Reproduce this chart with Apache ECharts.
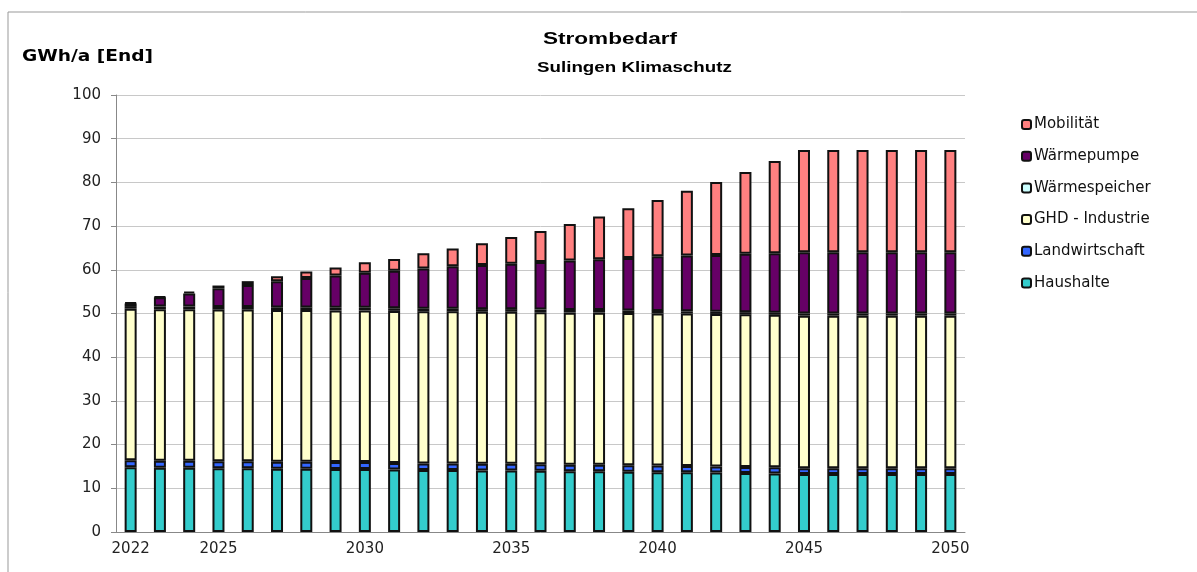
<!DOCTYPE html>
<html>
<head>
<meta charset="utf-8">
<script src="https://cdn.jsdelivr.net/npm/echarts@6/dist/echarts.min.js"></script>
<style>
  html, body { margin: 0; padding: 0; background: #fff; }
  #strom { width: 1197px; height: 572px; }
</style>
</head>
<body>
<div id="strom"></div>
<script>
// Jahre 2022 - 2050
var years = ['2022','2023','2024','2025','2026','2027','2028','2029','2030','2031','2032','2033','2034','2035',
  '2036','2037','2038','2039','2040','2041','2042','2043','2044','2045','2046','2047','2048','2049','2050'];

// GWh/a
var haushalte = [14.8,14.7,14.7,14.6,14.6,14.5,14.5,14.4,14.4,14.3,14.2,14.2,14.1,14.1,
  14.0,13.9,13.9,13.8,13.7,13.7,13.6,13.5,13.4,13.3,13.3,13.3,13.3,13.3,13.3];
var landwirtschaft = [1.6,1.6,1.6,1.6,1.6,1.6,1.6,1.6,1.6,1.5,1.5,1.5,1.5,1.5,
  1.5,1.5,1.5,1.5,1.5,1.4,1.4,1.4,1.4,1.3,1.3,1.3,1.3,1.3,1.3];
var ghd = [34.7,34.7,34.7,34.7,34.7,34.7,34.7,34.7,34.7,34.8,34.8,34.8,34.8,34.8,
  34.8,34.8,34.8,34.8,34.8,34.9,34.9,34.9,34.9,34.9,34.9,34.9,34.9,34.9,34.9];
var waermespeicher = [0.6,0.6,0.6,0.6,0.6,0.6,0.6,0.6,0.6,0.6,0.6,0.6,0.6,0.6,
  0.6,0.6,0.6,0.6,0.6,0.5,0.5,0.5,0.5,0.5,0.5,0.5,0.5,0.5,0.5];
var waermepumpe = [0.6,2.1,3.0,4.3,5.0,6.0,6.7,7.4,8.0,8.6,9.2,9.7,10.1,10.4,
  10.9,11.3,11.6,12.0,12.5,12.8,13.0,13.4,13.6,14.0,14.0,14.0,14.0,14.0,14.0];
var mobilitaet = [0.2,0.2,0.4,0.6,0.9,1.1,1.5,1.8,2.4,2.7,3.5,4.1,5.0,6.1,
  7.1,8.4,9.8,11.4,12.9,14.8,16.7,18.7,21.1,23.4,23.4,23.4,23.4,23.4,23.4];

var chartDom = document.getElementById('strom');
var myChart = echarts.init(chartDom);

function bar(name, data, color) {
  return {
    name: name,
    type: 'bar',
    stack: 'strom',
    data: data,
    barWidth: 12,
    itemStyle: { color: color, borderColor: '#111', borderWidth: 2 },
    emphasis: { disabled: true }
  };
}

// Ueberschriften sind im Original breit gezogen -> scaleX
function label(text, x, y, font, size, sx) {
  return {
    type: 'text', x: x, y: y, scaleX: sx, originX: 0,
    style: { text: text, fontFamily: font, fontSize: size, fontWeight: 'bold', fill: '#000', textVerticalAlign: 'middle' }
  };
}

var option = {
  animation: false,
  textStyle: { fontFamily: 'DejaVu Sans' },
  graphic: [
    { type: 'rect', shape: { x: 8, y: 12, width: 1200, height: 580 },
      style: { fill: 'none', stroke: '#999', lineWidth: 1 } },
    label('Strombedarf', 543, 40, 'Liberation Sans', 16, 1.41),
    label('Sulingen Klimaschutz', 537, 68, 'Liberation Sans', 15, 1.25),
    label('GWh/a [End]', 22, 57, 'DejaVu Sans', 15, 1.24)
  ],
  legend: {
    orient: 'vertical',
    left: 1016,
    top: 111.5,
    itemWidth: 9,
    itemHeight: 9,
    itemGap: 15.7,
    textStyle: { fontSize: 15, lineHeight: 16, color: '#111', padding: [0, 0, 0, -2] },
    data: ['Mobilität', 'Wärmepumpe', 'Wärmespeicher', 'GHD - Industrie', 'Landwirtschaft', 'Haushalte'],
    selectedMode: false
  },
  grid: { left: 116, right: 232, top: 95, bottom: 40 },
  xAxis: {
    type: 'category',
    data: years,
    boundaryGap: true,
    axisLine: { lineStyle: { color: '#888' } },
    axisTick: { interval: 0, length: 5, lineStyle: { color: '#888' } },
    axisLabel: {
      interval: function (idx, val) { return val === '2022' || Number(val) % 5 === 0; },
      color: '#222', fontSize: 15, margin: 10
    }
  },
  yAxis: {
    type: 'value',
    min: 0,
    max: 100,
    interval: 10,
    axisLine: { show: true, lineStyle: { color: '#888' } },
    axisTick: { show: true, length: 5, lineStyle: { color: '#888' } },
    axisLabel: { color: '#222', fontSize: 15, margin: 15 },
    splitLine: { lineStyle: { color: '#c8c8c8', width: 1 } }
  },
  series: [
    bar('Haushalte', haushalte, '#33CCCC'),
    bar('Landwirtschaft', landwirtschaft, '#3366FF'),
    bar('GHD - Industrie', ghd, '#FFFFCC'),
    bar('Wärmespeicher', waermespeicher, '#CCFFFF'),
    bar('Wärmepumpe', waermepumpe, '#660066'),
    bar('Mobilität', mobilitaet, '#FF8080')
  ]
};

option && myChart.setOption(option);
</script>
</body>
</html>
